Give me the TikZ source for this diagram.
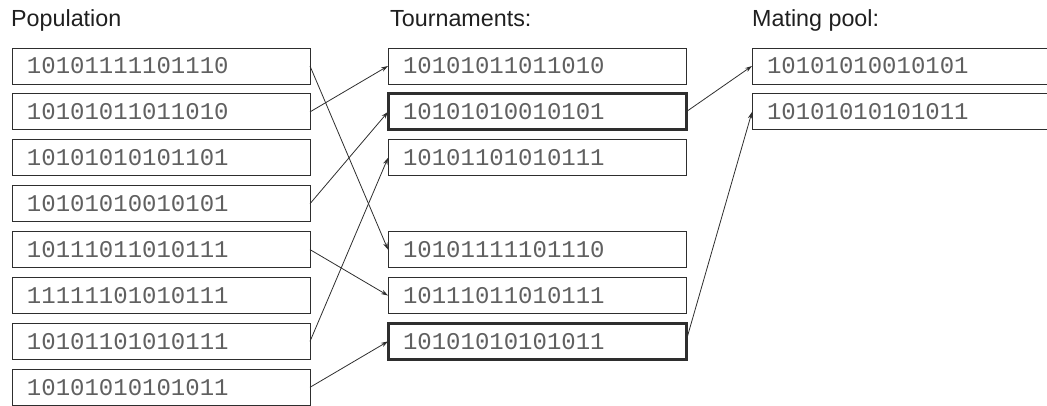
\documentclass[tikz,border=0pt]{standalone}
\usepackage{fontspec}
\setmainfont{Liberation Sans}
\newfontfamily\bitfont{Liberation Mono}
\usetikzlibrary{positioning,arrows.meta}
\definecolor{boxline}{HTML}{2E2E2E}
\definecolor{bittext}{HTML}{606060}

\begin{document}
\begin{tikzpicture}[x=1pt, y=-1pt,
		chrom/.style={rectangle, draw=boxline, line width=1pt, outer sep=0pt,
			minimum height=36pt, inner xsep=15pt, text width=268pt,
			text=bittext, font=\bitfont\fontsize{24}{28}\selectfont},
		winner/.style={chrom, line width=3pt},
		title/.style={anchor=base west, inner sep=0pt, text=black!88,
			font=\fontsize{23.3}{27}\selectfont},
		pick/.style={-{Stealth[length=7pt,width=4.5pt]}, draw=boxline, line width=0.8pt},
		node distance = 9.9pt
		]
	\clip (0,0) rectangle (1047,405);
	% column titles
	\node [title] (poptitle) at (11,26) {Population};
	\node [title] (tourtitle) at (390,26) {Tournaments:};
	\node [title] (pooltitle) at (752,26) {Mating pool:};
	% population
	\node [chrom, anchor=north west] (p1) at (12,48) {10101111101110};
	\node [chrom, below=of p1] (p2) {10101011011010};
	\node [chrom, below=of p2] (p3) {10101010101101};
	\node [chrom, below=of p3] (p4) {10101010010101};
	\node [chrom, below=of p4] (p5) {10111011010111};
	\node [chrom, below=of p5] (p6) {11111101010111};
	\node [chrom, below=of p6] (p7) {10101101010111};
	\node [chrom, below=of p7] (p8) {10101010101011};
	% tournaments
	\node [chrom, right=78pt of p1] (t1) {10101011011010};
	\node [winner, right=78pt of p2] (t2) {10101010010101};
	\node [chrom, right=78pt of p3] (t3) {10101101010111};
	\node [chrom, right=78pt of p5] (t4) {10101111101110};
	\node [chrom, right=78pt of p6] (t5) {10111011010111};
	\node [winner, right=78pt of p7] (t6) {10101010101011};
	% mating pool
	\node [chrom, right=66pt of t1] (m1) {10101010010101};
	\node [chrom, below=of m1] (m2) {10101010101011};
	% selections
	\draw [pick] (p1.east) -- (t4.west);
	\draw [pick] (p2.east) -- (t1.west);
	\draw [pick] (p4.east) -- (t2.west);
	\draw [pick] (p5.east) -- (t5.west);
	\draw [pick] (p7.east) -- (t3.west);
	\draw [pick] (p8.east) -- (t6.west);
	\draw [pick] (t2.east) -- (m1.west);
	\draw [pick] (t6.east) -- (m2.west);
\end{tikzpicture}
\end{document}
